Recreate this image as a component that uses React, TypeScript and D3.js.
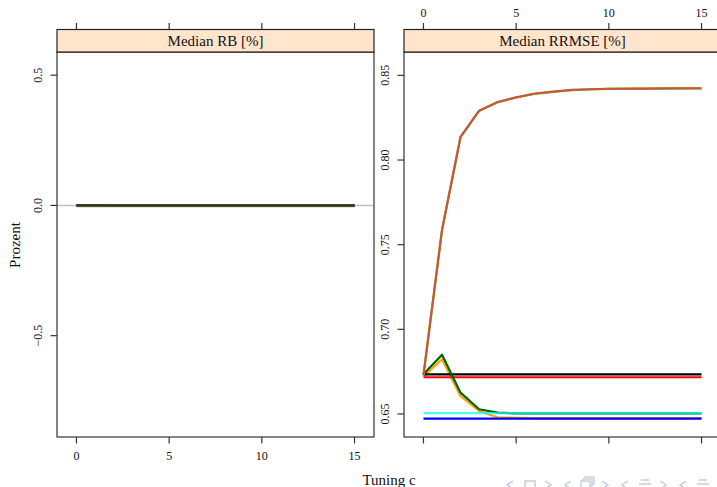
import React from 'react';
import * as d3 from 'd3';

// tuning constant c on the x axis
const tuningC = [0, 1, 2, 3, 4, 5, 6, 7, 8, 9, 10, 11, 12, 13, 14, 15];

// Median RB [%] (left panel) - all practically zero
const rbBlack = [0.001, 0.001, 0.001, 0.001, 0.001, 0.001, 0.001, 0.001, 0.001, 0.001, 0.001, 0.001, 0.001, 0.001, 0.001, 0.001];
const rbRed = [0.0, 0.0, 0.0, 0.0, 0.0, 0.0, 0.0, 0.0, 0.0, 0.0, 0.0, 0.0, 0.0, 0.0, 0.0, 0.0];
const rbCyan = [-0.001, -0.001, -0.001, -0.001, -0.001, -0.001, -0.001, -0.001, -0.001, -0.001, -0.001, -0.001, -0.001, -0.001, -0.001, -0.001];
const rbBlue = [0.0, 0.0, 0.0, 0.0, 0.0, 0.0, 0.0, 0.0, 0.0, 0.0, 0.0, 0.0, 0.0, 0.0, 0.0, 0.0];
const rbOrange = [-0.001, -0.001, -0.001, -0.001, -0.001, -0.001, -0.001, -0.001, -0.001, -0.001, -0.001, -0.001, -0.001, -0.001, -0.001, -0.001];
const rbDarkgreen = [0.0, 0.0, -0.001, -0.001, -0.001, -0.001, -0.001, -0.001, -0.001, -0.001, -0.001, -0.001, -0.001, -0.001, -0.001, -0.001];
const rbGreen = [-0.003, -0.003, -0.003, -0.003, -0.003, -0.003, -0.003, -0.003, -0.003, -0.003, -0.003, -0.003, -0.003, -0.003, -0.003, -0.003];
const rbSienna = [0.001, 0.001, 0.001, 0.001, 0.001, 0.001, 0.001, 0.001, 0.001, 0.001, 0.001, 0.001, 0.001, 0.001, 0.001, 0.001];

// Median RRMSE [%] (right panel)
const rrBlack = [0.6734, 0.6734, 0.6734, 0.6734, 0.6734, 0.6734, 0.6734, 0.6734, 0.6734, 0.6734, 0.6734, 0.6734, 0.6734, 0.6734, 0.6734, 0.6734];
const rrRed = [0.6717, 0.6717, 0.6717, 0.6717, 0.6717, 0.6717, 0.6717, 0.6717, 0.6717, 0.6717, 0.6717, 0.6717, 0.6717, 0.6717, 0.6717, 0.6717];
const rrCyan = [0.6505, 0.6505, 0.6505, 0.6505, 0.6505, 0.6505, 0.6505, 0.6505, 0.6505, 0.6505, 0.6505, 0.6505, 0.6505, 0.6505, 0.6505, 0.6505];
const rrBlue = [0.6472, 0.6472, 0.6472, 0.6472, 0.6472, 0.6472, 0.6472, 0.6472, 0.6472, 0.6472, 0.6472, 0.6472, 0.6472, 0.6472, 0.6472, 0.6472];
const rrOrange = [0.6722, 0.6823, 0.6605, 0.6518, 0.648, 0.6477, 0.6476, 0.6476, 0.6475, 0.6475, 0.6475, 0.6475, 0.6475, 0.6475, 0.6475, 0.6475];
const rrDarkgreen = [0.6734, 0.685, 0.6626, 0.6528, 0.6508, 0.6503, 0.6503, 0.6503, 0.6503, 0.6504, 0.6504, 0.6504, 0.6504, 0.6504, 0.6504, 0.6504];
const rrGreen = [0.673, 0.7585, 0.8135, 0.829, 0.8341, 0.8369, 0.839, 0.8402, 0.8412, 0.8417, 0.842, 0.8421, 0.8422, 0.8422, 0.8423, 0.8423];
const rrSienna = [0.673, 0.7587, 0.8137, 0.8291, 0.8342, 0.837, 0.8393, 0.8404, 0.8414, 0.8418, 0.8421, 0.8422, 0.8422, 0.8423, 0.8423, 0.8424];

const xTicks = [0, 5, 10, 15];
const rbTicks = [-0.5, 0, 0.5];
const rrTicks = [0.65, 0.7, 0.75, 0.8, 0.85];

const W = 717;
const H = 487;
const FONT = '"Liberation Serif", "DejaVu Serif", serif';
const AXIS = '#333';

type Line = { values: number[]; color: string; opacity?: number };

const rbLines: Line[] = [
  { values: rbGreen, color: '#66cd00' },
  { values: rbOrange, color: '#ffa500' },
  { values: rbBlue, color: '#0000ff' },
  { values: rbCyan, color: '#00e5e5' },
  { values: rbRed, color: '#ff0000' },
  { values: rbSienna, color: '#c8553d' },
  { values: rbDarkgreen, color: '#1d4a1d', opacity: 0.85 },
  { values: rbBlack, color: '#333', opacity: 0.8 },
];

const rrLines: Line[] = [
  { values: rrOrange, color: '#ffa500' },
  { values: rrBlue, color: '#0000ff' },
  { values: rrBlack, color: '#000' },
  { values: rrRed, color: '#ff0000' },
  { values: rrDarkgreen, color: '#006400' },
  { values: rrCyan, color: '#00ffff', opacity: 0.72 },
  { values: rrGreen, color: '#66cd00' },
  { values: rrSienna, color: '#c8553d' },
];

const fmt = (v: number, digits: number) => {
  const s = v.toFixed(digits);
  return v < 0 ? '\u2212' + s.slice(1) : s;
};

type PanelProps = {
  id: string;
  left: number;
  title: string;
  yDomain: [number, number];
  yTicks: number[];
  digits: number;
  lines: Line[];
  topLabels: boolean;
  refZero?: boolean;
};

const PANEL_W = 317;
const TOP = 52;
const BOTTOM = 437;
const STRIP_TOP = 29.5;

const Panel = ({ id, left, title, yDomain, yTicks, digits, lines, topLabels, refZero }: PanelProps) => {
  const x = d3.scaleLinear().domain([-1.05, 16.05]).range([left, left + PANEL_W]);
  const y = d3.scaleLinear().domain(yDomain).range([BOTTOM, TOP]);
  const line = d3
    .line<number>()
    .x((_, i) => x(tuningC[i]))
    .y((d) => y(d));

  return (
    <g>
      <defs>
        <clipPath id={id}>
          <rect x={left} y={TOP} width={PANEL_W} height={BOTTOM - TOP} />
        </clipPath>
      </defs>
      <g clipPath={`url(#${id})`}>
        {refZero && (
          <line x1={left} x2={left + PANEL_W} y1={y(0)} y2={y(0)} stroke="#bfbfbf" strokeWidth={1.5} />
        )}
        {lines.map((l, i) => (
          <path
            key={i}
            d={line(l.values) || ''}
            fill="none"
            stroke={l.color}
            strokeOpacity={l.opacity ?? 1}
            strokeWidth={2.2}
            strokeLinejoin="round"
          />
        ))}
      </g>
      <rect x={left} y={TOP} width={PANEL_W} height={BOTTOM - TOP} fill="none" stroke={AXIS} strokeWidth={1.2} />
      <rect x={left} y={STRIP_TOP} width={PANEL_W} height={TOP - STRIP_TOP} fill="#ffe5cc" stroke="#222" strokeWidth={1.2} />
      <text x={left + PANEL_W / 2} y={46} textAnchor="middle" fontFamily={FONT} fontSize={15} fill="#111">
        {title}
      </text>
      {xTicks.map((t) => (
        <g key={t}>
          <line x1={x(t)} x2={x(t)} y1={STRIP_TOP - 6.5} y2={STRIP_TOP} stroke={AXIS} strokeWidth={1.2} />
          <line x1={x(t)} x2={x(t)} y1={BOTTOM} y2={BOTTOM + 6.5} stroke={AXIS} strokeWidth={1.2} />
          {topLabels ? (
            <text x={x(t)} y={17} textAnchor="middle" fontFamily={FONT} fontSize={12} fill="#111">
              {t}
            </text>
          ) : (
            <text x={x(t)} y={460} textAnchor="middle" fontFamily={FONT} fontSize={12} fill="#111">
              {t}
            </text>
          )}
        </g>
      ))}
      {yTicks.map((t) => (
        <g key={t}>
          <line x1={left - 6.5} x2={left} y1={y(t)} y2={y(t)} stroke={AXIS} strokeWidth={1.2} />
          <text
            transform={`translate(${left - 15},${y(t)}) rotate(-90)`}
            textAnchor="middle"
            fontFamily={FONT}
            fontSize={12}
            fill="#111"
          >
            {fmt(t, digits)}
          </text>
        </g>
      ))}
    </g>
  );
};

// beamer navigation symbols (faint icons bottom right)
const navX = [510, 530, 548, 568, 587, 605, 625, 645, 663, 683, 703];
const navKind = ['l', 'sq', 'r', 'l', 'st', 'r', 'l', 'eq', 'r', 'l', 'eq'];

const NavIcon = ({ cx, kind }: { cx: number; kind: string }) => {
  const c = '#c3cbdc';
  const cy = 485;
  if (kind === 'l') return <path d={`M${cx + 3},${cy - 4} L${cx - 3},${cy} L${cx + 3},${cy + 4}`} fill="none" stroke={c} strokeWidth={1.5} />;
  if (kind === 'r') return <path d={`M${cx - 3},${cy - 4} L${cx + 3},${cy} L${cx - 3},${cy + 4}`} fill="none" stroke={c} strokeWidth={1.5} />;
  if (kind === 'sq') return <rect x={cx - 5} y={cy - 4} width={10} height={8} fill="none" stroke={c} strokeWidth={1.5} />;
  if (kind === 'st')
    return (
      <g fill="#fff" stroke={c} strokeWidth={1.3}>
        <rect x={cx - 2} y={cy - 8} width={9} height={7} />
        <rect x={cx - 4} y={cy - 6} width={9} height={7} />
        <rect x={cx - 6} y={cy - 4} width={9} height={7} />
      </g>
    );
  return (
    <g stroke={c} strokeWidth={1.5}>
      <line x1={cx - 4} x2={cx + 4} y1={cy - 5} y2={cy - 5} />
      <line x1={cx - 6} x2={cx + 6} y1={cy - 1} y2={cy - 1} />
      <line x1={cx - 6} x2={cx + 6} y1={cy + 3} y2={cy + 3} />
    </g>
  );
};

export default function App() {
  return (
    <svg
      width={W}
      height={H}
      viewBox={`0 0 ${W} ${H}`}
      style={{ position: 'absolute', left: 0, top: 0, background: '#fff', overflow: 'hidden' }}
    >
      <rect width={W} height={H} fill="#fff" />
      <Panel
        id="clip-rb"
        left={57}
        title="Median RB [%]"
        yDomain={[-0.889, 0.589]}
        yTicks={rbTicks}
        digits={1}
        lines={rbLines}
        topLabels={false}
        refZero
      />
      <Panel
        id="clip-rr"
        left={404}
        title="Median RRMSE [%]"
        yDomain={[0.6364, 0.8638]}
        yTicks={rrTicks}
        digits={2}
        lines={rrLines}
        topLabels
      />
      <text
        transform="translate(20,245) rotate(-90)"
        textAnchor="middle"
        fontFamily={FONT}
        fontSize={15}
        fill="#111"
      >
        Prozent
      </text>
      <text x={389} y={485} textAnchor="middle" fontFamily={FONT} fontSize={15} fill="#111">
        Tuning c
      </text>
      {navX.map((nx, i) => (
        <NavIcon key={i} cx={nx} kind={navKind[i]} />
      ))}
    </svg>
  );
}
